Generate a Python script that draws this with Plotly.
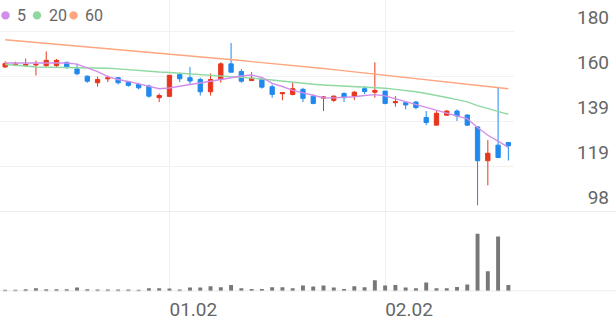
import plotly.graph_objects as go

# ---- data ----
idx = list(range(50))
opens = [163.9, 164.9, 164.5, 164.8, 164.5, 164.5, 166.0, 163.0, 159.7, 156.7,
         158.5, 159.0, 157.1, 155.9, 155.2, 149.9, 150.5, 160.4, 159.0, 158.2,
         152.6, 158.2, 165.3, 161.8, 157.7, 158.2, 154.9, 151.7, 151.4, 153.7,
         150.6, 149.7, 148.7, 151.8, 150.6, 154.0, 152.4, 152.9, 147.6, 147.6,
         147.9, 140.9, 137.4, 141.9, 143.8, 142.0, 136.6, 121.2, 128.3, 129.5]
highs = [166.5, 166.3, 167.7, 166.8, 171.0, 167.5, 166.3, 165.4, 160.0, 159.5,
         160.0, 159.3, 157.3, 156.7, 155.9, 151.8, 160.2, 161.2, 163.9, 159.0,
         160.9, 166.0, 174.8, 163.0, 161.5, 158.4, 155.9, 152.2, 156.7, 154.4,
         151.4, 150.6, 150.9, 152.4, 152.9, 155.2, 166.0, 153.0, 150.6, 147.8,
         148.4, 143.8, 143.8, 144.3, 144.6, 142.3, 136.7, 130.6, 154.8, 129.7]
lows = [163.6, 164.5, 163.9, 160.0, 163.9, 163.9, 163.0, 160.1, 156.7, 154.9,
        157.0, 155.9, 154.9, 153.7, 149.9, 147.9, 150.3, 157.0, 155.9, 150.9,
        150.9, 156.7, 161.5, 156.7, 157.7, 154.0, 149.9, 148.7, 150.9, 147.9,
        146.9, 143.8, 147.9, 147.9, 148.8, 151.6, 149.9, 146.9, 145.8, 144.6,
        144.6, 137.4, 137.4, 141.9, 139.3, 137.0, 100.9, 110.0, 122.3, 121.3]
closes = [165.4, 165.2, 165.1, 165.1, 166.9, 166.9, 163.9, 160.8, 157.4, 158.2,
          159.0, 156.7, 155.5, 154.4, 150.6, 150.9, 160.1, 158.5, 157.5, 152.6,
          158.2, 165.3, 161.5, 157.4, 158.8, 154.7, 151.4, 152.2, 154.0, 149.6,
          147.3, 150.2, 150.6, 149.9, 152.4, 152.7, 153.2, 147.3, 148.1, 146.6,
          145.4, 138.6, 142.8, 143.8, 141.6, 137.4, 121.2, 124.6, 122.7, 128.0]
volumes = [10, 10, 20, 30, 20, 20, 20, 37, 20, 17,
           17, 17, 17, 15, 30, 30, 27, 17, 37, 37,
           50, 40, 63, 30, 23, 23, 40, 40, 30, 57,
           47, 57, 37, 22, 50, 40, 110, 57, 63, 37,
           30, 87, 30, 30, 43, 67, 577, 200, 550, 63]
ma5 = [165.7, 165.7, 165.9, 166.0, 166.0, 166.0, 165.7, 165.2, 163.6, 161.8,
       159.5, 158.2, 157.3, 156.1, 155.0, 154.0, 154.3, 155.2, 155.9, 156.6,
       157.4, 158.2, 159.0, 159.8, 160.2, 159.1, 156.4, 155.0, 153.2, 152.1,
       150.9, 149.9, 149.8, 149.9, 150.3, 150.9, 151.3, 150.7, 149.4, 148.0,
       146.6, 145.4, 144.2, 143.0, 141.7, 140.3, 136.3, 132.8, 130.1, 127.3]
ma20 = [165.0, 164.8, 164.3, 163.9, 163.8, 163.8, 163.8, 163.7, 163.7, 163.6,
        163.3, 163.0, 162.6, 162.2, 161.9, 161.6, 161.4, 161.1, 160.8, 160.5,
        160.3, 160.0, 159.6, 159.2, 158.8, 158.4, 157.9, 157.4, 156.9, 156.3,
        156.0, 155.7, 155.5, 155.3, 155.1, 154.9, 154.6, 154.2, 153.7, 153.2,
        152.6, 151.8, 151.0, 150.0, 149.0, 148.0, 146.3, 144.9, 143.5, 142.3]
ma60 = [176.3, 175.9, 175.5, 175.1, 174.7, 174.3, 173.9, 173.5, 173.1, 172.7,
        172.3, 171.9, 171.5, 171.1, 170.7, 170.3, 169.9, 169.5, 169.0, 168.6,
        168.1, 167.7, 167.2, 166.8, 166.3, 165.9, 165.4, 165.0, 164.5, 164.1,
        163.6, 163.2, 162.7, 162.2, 161.7, 161.2, 160.7, 160.2, 159.7, 159.2,
        158.7, 158.2, 157.7, 157.2, 156.7, 156.2, 155.7, 155.1, 154.6, 154.0]
date_tick_idx = [16, 37]
date_tick_text = ["01.02", "02.02"]
price_ticks = [98, 118.5, 139, 159.5, 180]
price_tick_text = ["98", "119", "139", "160", "180"]
ma_names = ["5", "20", "60"]

# ---- styles ----
RED = "#e8361e"
BLUE = "#2189ee"
MA_COLORS = ["#d18ee9", "#8fd9a1", "#ffa57f"]
TXT = "#666666"
FONT = "Roboto"
W, H = 616, 321

fig = go.Figure()
for vals, col in zip([ma60, ma20, ma5], MA_COLORS[::-1]):
    fig.add_trace(go.Scatter(x=idx, y=vals, mode="lines", line=dict(color=col, width=1.4),
                             showlegend=False, hoverinfo="skip", xaxis="x", yaxis="y"))
fig.add_trace(go.Candlestick(
    x=idx, open=opens, high=highs, low=lows, close=closes,
    increasing=dict(line=dict(color=RED, width=1), fillcolor=RED),
    decreasing=dict(line=dict(color=BLUE, width=1), fillcolor=BLUE),
    whiskerwidth=0, showlegend=False, xaxis="x", yaxis="y"))
fig.add_trace(go.Bar(x=idx, y=volumes, width=0.38, marker=dict(color="#777777", line=dict(width=0)),
                     showlegend=False, xaxis="x2", yaxis="y2"))

xdom = [0, 513.5 / W]
price_bottom = (H - 213) / H
vol_bottom = (H - 293) / H

fig.update_layout(
    width=W, height=H, margin=dict(l=0, r=0, t=0, b=0),
    paper_bgcolor="white", plot_bgcolor="white",
    boxgap=0.4,
    font=dict(family=FONT, color=TXT, size=19),
    xaxis=dict(domain=xdom, range=[-0.5, 49.5], anchor="y", tickvals=date_tick_idx,
               showticklabels=False, showgrid=True, gridcolor="#eeeeee", gridwidth=1,
               zeroline=False, showline=False, ticks="", rangeslider=dict(visible=False)),
    yaxis=dict(domain=[price_bottom, 1], range=[98, 98 + 213 / 2.21], anchor="free", position=1,
               side="right", tickvals=price_ticks, ticktext=price_tick_text,
               ticklabelposition="inside", ticklabelshift=-14, ticklabelstandoff=4,
               showgrid=True, gridcolor="#f2f2f2", zeroline=False, showline=False, ticks="",
               tickfont=dict(family=FONT, size=19, color=TXT)),
    xaxis2=dict(domain=xdom, range=[-0.5, 49.5], anchor="y2", matches="x",
                tickvals=date_tick_idx, ticktext=date_tick_text,
                ticklabelposition="outside right", ticklabelstandoff=5,
                showgrid=True, gridcolor="#eeeeee",
                zeroline=False, showline=False, ticks="",
                tickfont=dict(family=FONT, size=19, color=TXT)),
    yaxis2=dict(domain=[vol_bottom, price_bottom], range=[0, 800], anchor="x2",
                showgrid=False, showticklabels=False, zeroline=False, showline=False),
    showlegend=False,
)

# pane border lines
fig.add_shape(type="line", xref="paper", x0=0, x1=1, yref="y", y0=98, y1=98,
              line=dict(color="#e4e4e4", width=1.2))
fig.add_shape(type="line", xref="paper", x0=0, x1=1, yref="y2", y0=0, y1=0,
              line=dict(color="#e4e4e4", width=1.2))

# legend (circle + label)
legend_x = [5.5, 37, 73.5]
for name, col, cx in zip(ma_names, MA_COLORS, legend_x):
    r = 4.2
    fig.add_shape(type="circle", xref="paper", yref="paper",
                  x0=(cx - r) / W, x1=(cx + r) / W,
                  y0=1 - (15.5 + r) / H, y1=1 - (15.5 - r) / H,
                  fillcolor=col, line=dict(width=0))
    fig.add_annotation(xref="paper", yref="paper", x=(cx + 9.5) / W, y=1 - 15.5 / H,
                       text=name, showarrow=False, xanchor="left", yanchor="middle",
                       font=dict(family=FONT, size=16, color=TXT))

fig.write_html("out.html")
